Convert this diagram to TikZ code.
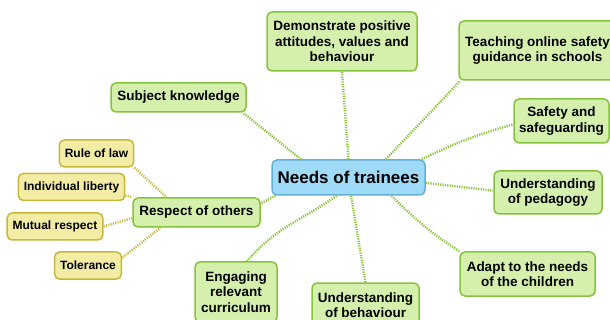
\documentclass[tikz,border=0pt]{standalone}
\usepackage{fontspec}
\setmainfont{Liberation Sans}

\definecolor{hubfill}{HTML}{9FDAF8}
\definecolor{hubline}{HTML}{62B0D6}
\definecolor{leaffill}{HTML}{D5EFAC}
\definecolor{leafline}{HTML}{86C23C}
\definecolor{cuefill}{HTML}{F2ECA5}
\definecolor{cueline}{HTML}{C6B93A}
\definecolor{leafwire}{HTML}{8CC63F}
\definecolor{cuewire}{HTML}{C9BC45}

\begin{document}
\begin{tikzpicture}[x=1pt, y=-1pt,
    hub/.style={draw=hubline, fill=hubfill, line width=1.5pt, rounded corners=5pt,
        font=\bfseries\fontsize{17}{19}\selectfont, minimum width=153pt, minimum height=35pt},
    leaf/.style={draw=leafline, fill=leaffill, line width=1.5pt, rounded corners=5pt,
        align=center, font=\bfseries\fontsize{13.5}{15.5}\selectfont},
    cue/.style={draw=cueline, fill=cuefill, line width=1.5pt, rounded corners=5pt,
        font=\bfseries\fontsize{12}{14}\selectfont, inner xsep=5.5pt, minimum height=27pt},
    link/.style={draw=leafwire, line width=2.4pt, dash pattern=on 1.2pt off 1.2pt},
    cuelink/.style={link, draw=cuewire}]
        \useasboundingbox (0,0) rectangle (610,320);
        \clip (0,0) rectangle (610,320);

        % centre
        \node[hub] (hub) at (348.5,177.5) {Needs of trainees};

        % needs
        \node[leaf, minimum width=150pt, minimum height=59pt] (attitude) at (342,41.5) {Demonstrate positive\\attitudes, values and\\behaviour};
        \node[leaf, minimum width=157pt, minimum height=59pt] (online) at (537.5,50.5) {Teaching online safety\\guidance in schools};
        \node[leaf, minimum width=95pt, minimum height=44pt] (safety) at (561.5,121) {Safety and\\safeguarding};
        \node[leaf, minimum width=108pt, minimum height=43pt] (pedagogy) at (548,192.5) {Understanding\\of pedagogy};
        \node[leaf, minimum width=135pt, minimum height=44pt] (adapt) at (527.5,274) {Adapt to the needs\\of the children};
        \node[leaf, minimum width=107pt, minimum height=44pt] (behaviour) at (365.5,305) {Understanding\\of behaviour};
        \node[leaf, minimum width=82pt, minimum height=60pt] (curriculum) at (236,292) {Engaging\\relevant\\curriculum};
        \node[leaf, minimum width=127pt, minimum height=29pt] (respect) at (196.5,212.5) {Respect of others};
        \node[leaf, minimum width=135pt, minimum height=29pt] (subject) at (178.5,97.5) {Subject knowledge};

        % values under respect
        \foreach \name/\x/\y/\txt in {law/96.5/153.5/Rule of law, liberty/71.5/187/Individual liberty,
                mutual/55/226.5/Mutual respect, tolerance/88/265.5/Tolerance} {
            \node[cue] (\name) at (\x,\y) {\txt};
        }

        \draw[link] (hub.north) -- (attitude.south);
        \draw[link] (hub.26) -- ([xshift=2pt]online.south west);
        \draw[link] (hub.14) to[bend left=5] (safety.184);
        \draw[link] (hub.-4) -- (pedagogy.178);
        \draw[link] (hub.-23) to[bend right=6] (adapt.north west);
        \draw[link] (hub.-82) -- (behaviour.north);
        \draw[link] (hub.-123) to[out=-145, in=50] ([xshift=11pt]curriculum.north);
        \draw[link] (hub.194) -- (respect.8);
        \draw[link] (hub.159) -- ([xshift=-4pt]subject.south east);

        \draw[cuelink] (law.south east) -- (respect.153);
        \draw[cuelink] (liberty.-9) -- (respect.north west);
        \draw[cuelink] (mutual.east) -- (respect.185);
        \draw[cuelink] (tolerance.13) -- (respect.203);
    \end{tikzpicture}
\end{document}
